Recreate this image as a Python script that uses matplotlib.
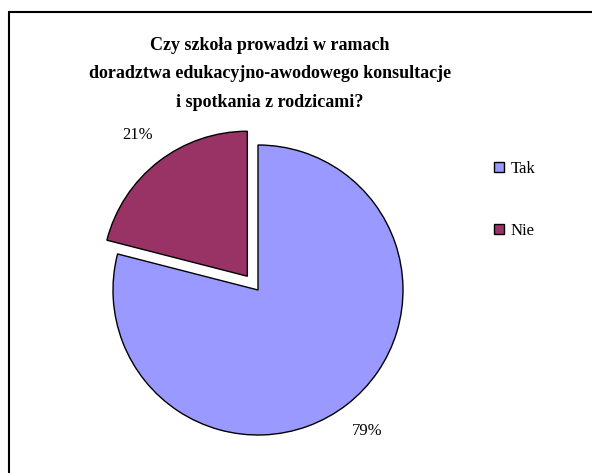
import matplotlib.pyplot as plt
from matplotlib.lines import Line2D
from matplotlib.patches import Rectangle

title = 'Czy szkoła prowadzi w ramach\ndoradztwa edukacyjno-awodowego konsultacje\ni spotkania z rodzicami?'
categories = ['Tak', 'Nie']
values = [79, 21]
colors = ['#9999FF', '#993366']

plt.rcParams['font.family'] = ['Liberation Serif', 'DejaVu Serif']

W, H = 592, 473
fig = plt.figure(figsize=(W / 100, H / 100), dpi=100)

# frame around the chart area (runs off right and bottom edges)
fig.patches.append(Rectangle((9 / W, -0.1), 1.2, 1 - 12 / H + 0.1, transform=fig.transFigure,
                             fill=False, edgecolor='black', linewidth=1.5))

# pie axes: center (258, 290) px, radius 145 px
cx, cy, r = 258, 290, 145
span = 1.3 * r
ax = fig.add_axes([(cx - span) / W, (H - cy - span) / H, 2 * span / W, 2 * span / H])

wedges, texts = ax.pie(values, colors=colors, startangle=90, counterclock=False,
                       explode=[0, 0.12], radius=1,
                       labels=['%d%%' % v for v in values], labeldistance=1.23,
                       wedgeprops=dict(edgecolor='black', linewidth=1),
                       textprops=dict(fontsize=12), frame=False)
ax.set_xlim(-1.3, 1.3)
ax.set_ylim(-1.3, 1.3)
ax.axis('off')
for t in texts:
    t.set_ha('center')
    t.set_va('center')
for w in wedges:
    w.set_clip_on(False)

fig.text(270 / W, 1 - 74 / H, title, ha='center', va='center', fontsize=13,
         fontweight='bold', linespacing=1.9)

handles = [Line2D([], [], marker='s', linestyle='none', markersize=7,
                  markerfacecolor=c, markeredgecolor='black', markeredgewidth=1)
           for c in colors]
fig.legend(handles, categories, loc='center left', bbox_to_anchor=(486 / W, 1 - 200 / H),
           frameon=False, fontsize=12, labelspacing=2.8, handlelength=0.6,
           handletextpad=0.4, borderpad=0)

fig.savefig('out.png', dpi=100)
